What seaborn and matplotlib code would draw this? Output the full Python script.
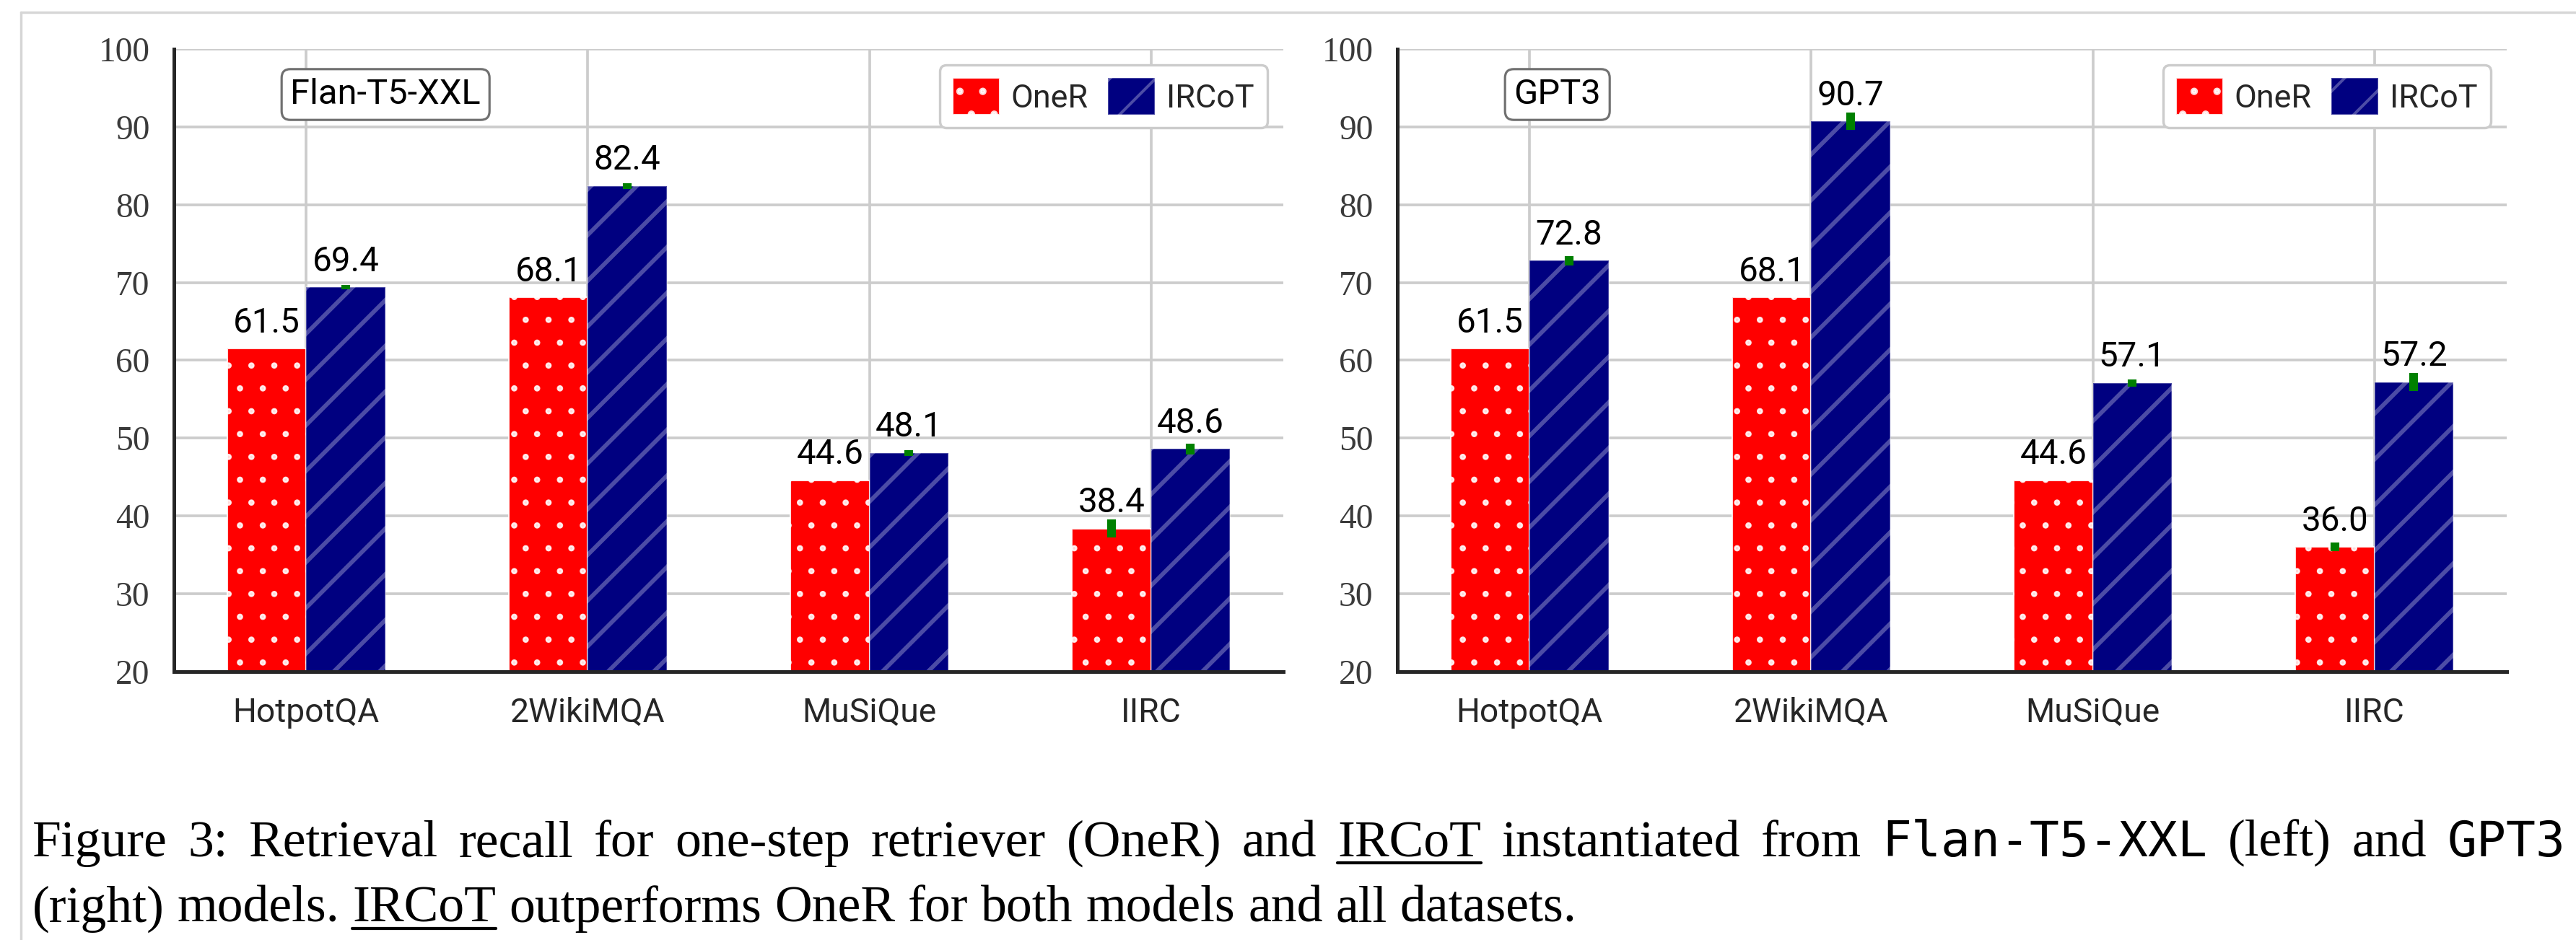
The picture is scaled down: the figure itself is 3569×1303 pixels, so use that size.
import numpy as np
import pandas as pd
import matplotlib
matplotlib.use("Agg")
import matplotlib.pyplot as plt
import seaborn as sns
from matplotlib.lines import Line2D
from matplotlib.transforms import IdentityTransform
from matplotlib.font_manager import FontProperties

# ---------------- data ----------------
datasets = ["HotpotQA", "2WikiMQA", "MuSiQue", "IIRC"]
methods = ["OneR", "IRCoT"]
panel_names = ["Flan-T5-XXL", "GPT3"]

flan_oner = [61.5, 68.1, 44.6, 38.4]
flan_ircot = [69.4, 82.4, 48.1, 48.6]
flan_oner_err = [0.0, 0.0, 0.0, 1.15]
flan_ircot_err = [0.25, 0.35, 0.35, 0.7]

gpt3_oner = [61.5, 68.1, 44.6, 36.0]
gpt3_ircot = [72.8, 90.7, 57.1, 57.2]
gpt3_oner_err = [0.0, 0.0, 0.0, 0.55]
gpt3_ircot_err = [0.6, 1.1, 0.45, 1.15]

yticks = [20, 30, 40, 50, 60, 70, 80, 90, 100]

caption_line1 = [("Figure 3: Retrieval recall for one-step retriever (OneR) and", "serif", False),
                 ("IRCoT", "serif", True),
                 ("instantiated from", "serif", False),
                 ("Flan-T5-XXL", "mono", False),
                 ("(left) and", "serif", False),
                 ("GPT3", "mono", False)]
caption_line2 = [("(right) models.", "serif", False),
                 ("IRCoT", "serif", True),
                 ("outperforms OneR for both models and all datasets.", "serif", False)]

# ---------------- style ----------------
sns.set_style("whitegrid")
SANS = ["Roboto", "DejaVu Sans"]
SERIF = ["Liberation Serif", "DejaVu Serif"]
MONO = ["DejaVu Sans Mono", "Liberation Mono"]
plt.rcParams["font.family"] = SANS
plt.rcParams["hatch.linewidth"] = 1.5

W, H, DPI = 3569, 1303, 190
fig = plt.figure(figsize=(W / DPI, H / DPI), dpi=DPI)
fig.patch.set_facecolor("white")

ax_rects = [[241 / W, 1 - 931 / H, 1537 / W, 863 / H],
            [1936 / W, 1 - 931 / H, 1537 / W, 863 / H]]

palette = {"OneR": "#ff0000", "IRCoT": "#000080"}
hatches = {"OneR": ".", "IRCoT": "/"}
edges = {"OneR": (1, 1, 1, 0.85), "IRCoT": (1, 1, 1, 0.3)}
hatch_lw = {"OneR": 0.9, "IRCoT": 2.2}

panels = [(flan_oner, flan_ircot, flan_oner_err, flan_ircot_err),
          (gpt3_oner, gpt3_ircot, gpt3_oner_err, gpt3_ircot_err)]

for rect, name, (oner, ircot, oerr, ierr) in zip(ax_rects, panel_names, panels):
    ax = fig.add_axes(rect)
    df = pd.DataFrame({
        "dataset": datasets * 2,
        "method": [m for m in methods for _ in datasets],
        "recall": oner + ircot,
    })
    sns.barplot(data=df, x="dataset", y="recall", hue="method", order=datasets,
                hue_order=methods, palette=palette, saturation=1, width=0.56,
                errorbar=None, legend=False, ax=ax, linewidth=0.8)
    errs_by_method = {"OneR": oerr, "IRCoT": ierr}
    vals_by_method = {"OneR": oner, "IRCoT": ircot}
    for cont, m in zip(ax.containers, methods):
        xs = []
        for p in cont:
            p.set_hatch(hatches[m])
            p.set_edgecolor(edges[m])
            if hasattr(p, "set_hatch_linewidth"):
                p.set_hatch_linewidth(hatch_lw[m])
            xs.append(p.get_x() + p.get_width() / 2)
        ax.errorbar(xs, vals_by_method[m], yerr=errs_by_method[m], fmt="none",
                    ecolor="#008000", elinewidth=4.6, capsize=0, zorder=6)
        for x, v in zip(xs, vals_by_method[m]):
            ax.annotate(f"{v:.1f}", (x, v), xytext=(0, 8.5), textcoords="offset points",
                        ha="center", va="baseline", fontsize=18, family=SANS,
                        color="black", zorder=7)

    ax.set_xlim(-0.47, 3.47)
    ax.set_ylim(20, 100)
    ax.set_yticks(yticks)
    ax.set_xlabel("")
    ax.set_ylabel("")
    ax.grid(True, axis="both", color="#cccccc", linewidth=1.4)
    ax.set_axisbelow(True)
    for s in ["top", "right"]:
        ax.spines[s].set_visible(False)
    for s in ["left", "bottom"]:
        ax.spines[s].set_color("#262626")
        ax.spines[s].set_linewidth(1.9)
    ax.tick_params(axis="both", which="major", direction="out", length=8.7,
                   width=1.9, color="#262626")
    ax.tick_params(axis="y", labelsize=18, pad=4.0, labelcolor="#3a3a3a",
                   labelfontfamily=SERIF[0])
    ax.tick_params(axis="x", labelsize=17.5, pad=4.5, labelcolor="#262626",
                   labelfontfamily=SANS[0])

    leg = ax.legend(handles=[c[0] for c in ax.containers], labels=methods,
                    loc="upper right", ncol=2, fontsize=17, handlelength=1.45,
                    handleheight=1.35, handletextpad=0.36, columnspacing=0.6,
                    borderpad=0.4, frameon=True, fancybox=True, framealpha=1,
                    edgecolor="#cccccc")
    leg.get_frame().set_linewidth(1.3)
    for t in leg.get_texts():
        t.set_color("#262626")

    ax.text(0.105, 0.927, name, transform=ax.transAxes, ha="left", va="center",
            fontsize=18.5, family=SANS, color="black", zorder=8,
            bbox=dict(boxstyle="round,pad=0.25", fc="white", ec="#707070", lw=1.2))

# ---------------- screenshot frame ----------------
fig.add_artist(Line2D([29, W], [H - 17, H - 17], transform=IdentityTransform(),
                      color="#d6d6d6", lw=1.3))
fig.add_artist(Line2D([29, 29], [0, H - 17], transform=IdentityTransform(),
                      color="#d6d6d6", lw=1.3))

# ---------------- caption ----------------
renderer = fig.canvas.get_renderer()


def txt_w(s, fp):
    w, h, d = renderer.get_text_width_height_descent(s, fp, ismath=False)
    return w


def space_w(fp):
    return txt_w("x x", fp) - txt_w("xx", fp)


def words_of(pieces):
    out = []
    for s, kind, ul in pieces:
        for wd in s.split(" "):
            out.append((wd, kind, ul))
    return out


def fp_of(kind, sizes):
    return FontProperties(family=SERIF if kind == "serif" else MONO, size=sizes[kind])


def natural_width(words, sizes):
    sp = space_w(fp_of("serif", sizes))
    return sum(txt_w(w, fp_of(k, sizes)) for w, k, _ in words) + sp * (len(words) - 1)


base = 28.0
w2 = words_of(caption_line2)
serif_size = base * (2185 - 45) / natural_width(w2, {"serif": base, "mono": base})
sizes = {"serif": serif_size, "mono": serif_size * 0.95}


def draw_words(words, x0, y_base, sizes, target=None):
    ws = [txt_w(w, fp_of(k, sizes)) for w, k, _ in words]
    if target is None:
        gap = space_w(fp_of("serif", sizes))
    else:
        gap = (target - sum(ws)) / (len(words) - 1)
    x = x0
    for (wd, kind, ul), w in zip(words, ws):
        fig.text(x, y_base, wd, transform=IdentityTransform(),
                 fontproperties=fp_of(kind, sizes), ha="left", va="baseline",
                 color="black")
        if ul:
            fig.add_artist(Line2D([x, x + w], [y_base - 9, y_base - 9],
                                  transform=IdentityTransform(), color="black", lw=1.6))
        x += w + gap


draw_words(words_of(caption_line1), 45, H - 1187, sizes, target=3555 - 45)
draw_words(w2, 45, H - 1278, sizes)

fig.savefig("out.png", dpi=DPI, facecolor="white")
